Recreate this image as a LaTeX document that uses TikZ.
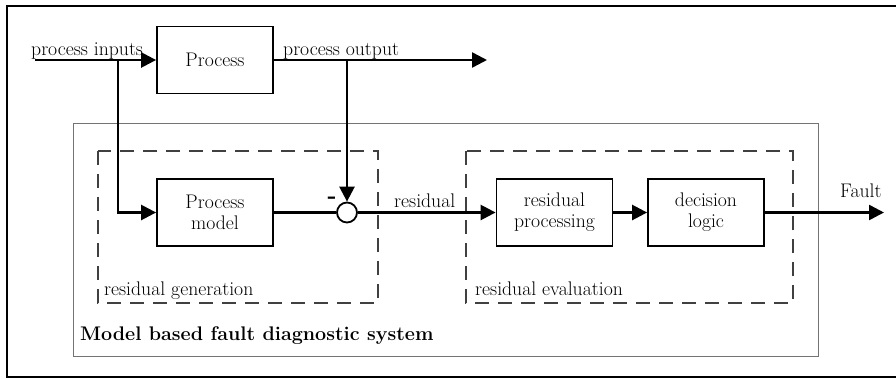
\documentclass[tikz,border=0pt]{standalone}
\usepackage{fontspec}
\setmainfont{Latin Modern Roman}
\usetikzlibrary{arrows.meta}
\begin{document}
\begin{tikzpicture}[x=1pt,y=-1pt,
  blk/.style={draw,line width=1.8pt,minimum width=116pt,minimum height=67pt,inner sep=0pt,align=center,font=\fontsize{19.7}{22}\selectfont},
  lbl/.style={inner sep=0pt,font=\fontsize{19.7}{22}\selectfont,anchor=base west},
  sig/.style={line width=2.5pt,-{Triangle[length=15pt,width=15pt]}},
  wire/.style={line width=2.5pt},
  grp/.style={draw=black!75,line width=2.6pt,dash pattern=on 14pt off 9pt},
  frame/.style={draw=black!55,line width=1pt}]
\useasboundingbox (0,0) rectangle (896,378);
% image border
\draw[line width=1.4pt] (905,6) -- (7,6) -- (7,377) -- (905,377);
% outer frame
\draw[frame] (73,123) rectangle (818,356);
% groups
\draw[grp] (98,151) rectangle (378,303);
\draw[grp] (466,151) rectangle (793,303);
% blocks
\node[blk] (proc) at (215,60) {Process};
\node[blk] (model) at (215,212.5) {Process\\[-1pt]model};
\node[blk] (rproc) at (554.5,212.5) {residual\\[-1pt]processing};
\node[blk] (dec) at (706,212.5) {decision\\[-1pt]logic};
\node[draw,circle,line width=1.8pt,minimum size=20pt,inner sep=0pt,fill=white] (sum) at (347,212.5) {};
% coordinates
\coordinate (in) at (35,60);
\coordinate (out) at (487,60);
\coordinate (fault) at (884,212.5);
\coordinate (tapin) at (118,60);
\coordinate (tapout) at (347,60);
% connectors
\draw[sig] (in) -- (proc.west);
\draw[sig] (proc.east) -- (out);
\draw[sig] (tapin) |- (model.west);
\draw[wire] (model.east) -- (sum.west);
\draw[sig] (tapout) -- (sum.north);
\draw[sig] (sum.east) -- (rproc.west);
\draw[sig] (rproc.east) -- (dec.west);
\draw[sig] (dec.east) -- (fault);
% labels
\node[lbl] (lin) at (31,55) {process inputs};
\node[lbl] (lout) at (283,55) {process output};
\node[lbl] (lres) at (394,207) {residual};
\node[lbl] (lfault) at (840,197) {Fault};
\node[lbl] (lgen) at (104,295) {residual generation};
\node[lbl] (leval) at (475,295) {residual evaluation};
\node[lbl,font=\fontsize{19.7}{22}\selectfont\bfseries] (lsys) at (80,340) {Model based fault diagnostic system};
\node[inner sep=0pt,font=\fontsize{24}{24}\selectfont\bfseries] (minus) at (332,200) {-};
\end{tikzpicture}
\end{document}
